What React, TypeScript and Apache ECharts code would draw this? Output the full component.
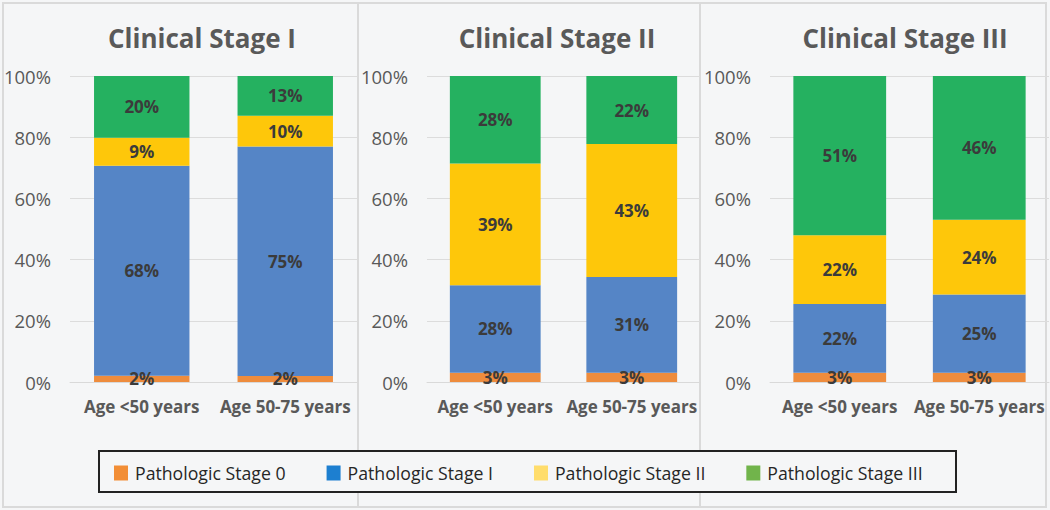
import React, { useEffect, useRef } from "react";
import * as echarts from "echarts";

const panelTitles = ["Clinical Stage I", "Clinical Stage II", "Clinical Stage III"];
const categories = ["Age <50 years", "Age 50-75 years"];
const stageNames = ["Pathologic Stage 0", "Pathologic Stage I", "Pathologic Stage II", "Pathologic Stage III"];
// values per panel: [Age <50, Age 50-75]
const stage0 = [[2, 2], [3, 3], [3, 3]];
const stage1 = [[68, 75], [28, 31], [22, 25]];
const stage2 = [[9, 10], [39, 43], [22, 24]];
const stage3 = [[20, 13], [28, 22], [51, 46]];
const yTicks = [0, 20, 40, 60, 80, 100];

const barColors = ["#ee8c3d", "#5585c6", "#fec70a", "#25b160"];
const legendColors = ["#f28e36", "#1d7fd0", "#ffdd6c", "#71b44b"];
const BG = "#f5f6f7";
const FONT = "'Open Sans', 'Noto Sans', sans-serif";

const gridLayout = [
  { left: 70, width: 287 },
  { left: 427, width: 273 },
  { left: 770, width: 279 },
];
const titleCenters = [197, 552, 900];

export default function App() {
  const ref = useRef<HTMLDivElement>(null);
  useEffect(() => {
    if (!ref.current) return;
    const chart = echarts.init(ref.current, null, { renderer: "svg" });
    const stages = [stage0, stage1, stage2, stage3];
    const series: any[] = [];
    for (let p = 0; p < 3; p++) {
      const totals = categories.map((_, i) => stages.reduce((s, st) => s + st[p][i], 0));
      stages.forEach((st, s) => {
        series.push({
          type: "bar",
          name: stageNames[s],
          stack: "p" + p,
          xAxisIndex: p,
          yAxisIndex: p,
          barWidth: "66.5%",
          itemStyle: { color: barColors[s] },
          label: {
            show: true,
            position: "inside",
            color: "#3b3b3b",
            fontWeight: "bold",
            fontSize: 17,
            fontFamily: FONT,
            formatter: (prm: any) => st[p][prm.dataIndex] + "%",
          },
          data: categories.map((_, i) => (st[p][i] / totals[i]) * 100),
        });
      });
    }
    chart.setOption({
      animation: false,
      backgroundColor: BG,
      textStyle: { fontFamily: FONT },
      title: panelTitles.map((t, p) => ({
        text: t,
        left: titleCenters[p],
        top: 20,
        textAlign: "center",
        textStyle: { fontSize: 26, fontWeight: "bold", color: "#595959", fontFamily: FONT },
      })),
      legend: {
        left: 114,
        top: 464,
        padding: 0,
        itemGap: 41,
        itemWidth: 14,
        itemHeight: 15,
        icon: "rect",
        textStyle: { fontSize: 17.7, color: "#262626", fontFamily: FONT, padding: [0, 0, 0, 2] },
        data: stageNames.map((n, i) => ({ name: n, itemStyle: { color: legendColors[i] } })),
      },
      grid: gridLayout.map((g) => ({ left: g.left, width: g.width, top: 76, height: 306 })),
      xAxis: gridLayout.map((_, p) => ({
        type: "category",
        gridIndex: p,
        data: categories,
        axisTick: { show: false },
        axisLine: { lineStyle: { color: "#d9d9d9", width: 1 } },
        axisLabel: { fontSize: 17, fontWeight: "bold", color: "#595959", margin: 16, fontFamily: FONT, interval: 0 },
      })),
      yAxis: gridLayout.map((_, p) => ({
        type: "value",
        gridIndex: p,
        min: yTicks[0],
        max: yTicks[yTicks.length - 1],
        interval: yTicks[1] - yTicks[0],
        axisLine: { show: false },
        axisTick: { show: false },
        splitLine: { lineStyle: { color: "#dcdcdc", width: 1 } },
        axisLabel: { fontSize: 18.5, color: "#595959", margin: 19, fontFamily: FONT, formatter: "{value}%" },
      })),
      graphic: [
        { type: "rect", z: -1, shape: { x: 3, y: 3, width: 1043, height: 504 }, style: { fill: "none", stroke: "#dadada", lineWidth: 2 } },
        { type: "line", z: -1, shape: { x1: 358, y1: 3, x2: 358, y2: 507 }, style: { stroke: "#dadada", lineWidth: 2 } },
        { type: "line", z: -1, shape: { x1: 700, y1: 3, x2: 700, y2: 507 }, style: { stroke: "#dadada", lineWidth: 2 } },
        { type: "rect", z: 0, shape: { x: 99, y: 451, width: 857, height: 41 }, style: { fill: BG, stroke: "#222222", lineWidth: 2 } },
      ],
      series,
    });
    return () => chart.dispose();
  }, []);
  return (
    <div
      ref={ref}
      style={{ position: "fixed", left: 0, top: 0, width: 1050, height: 510 }}
    />
  );
}
